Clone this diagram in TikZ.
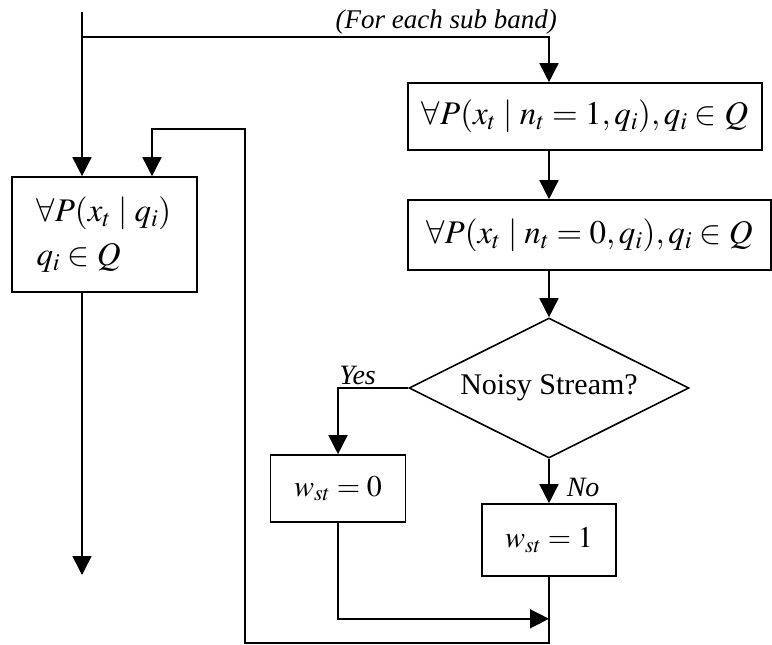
\documentclass[tikz,border=0pt]{standalone}
\usepackage{mathptmx}
\usepackage{fontspec}
\setmainfont{Liberation Serif}
\usetikzlibrary{arrows.meta, positioning, calc, shapes.geometric}

\begin{document}
\begin{tikzpicture}[x=1pt, y=-1pt,
  box/.style={draw, line width=1.6pt, inner sep=0pt, font=\fontsize{33}{38}\selectfont},
  cond/.style={draw, diamond, aspect=2, line width=1.6pt, inner sep=0pt, minimum width=280pt,
               minimum height=140pt, font=\fontsize{30}{36}\selectfont},
  lab/.style={font=\fontsize{28}{32}\selectfont\itshape, inner sep=2pt},
  arr/.style={-{Triangle[width=19pt, length=19pt]}, line width=1.6pt},
  wire/.style={line width=1.6pt}]
  \useasboundingbox (0,0) rectangle (772,645);
  \coordinate (start) at (82,12);
  \coordinate (split) at (82,37);
  \coordinate (stop)  at (82,575);
  \node[box, minimum width=185pt, minimum height=115pt, text width=150pt, inner xsep=17.5pt,
        align=left, font=\fontsize{33}{44}\selectfont] (prior) at (104.5,234.5)
        {\hspace{7pt}$\forall P(x_t\mid q_i)$\\\hspace{7pt}$q_i\in Q$};
  \node[box, minimum width=354pt, minimum height=67pt] (pn) at (585,116.5)
        {$\forall P(x_t\mid n_t=1,q_i),q_i\in Q$};
  \node[box, minimum width=363pt, minimum height=70pt] (pc) at (589.5,235)
        {$\forall P(x_t\mid n_t=0,q_i),q_i\in Q$};
  \node[cond] (test) at (549,388) {Noisy Stream?\hspace{10pt}};
  \node[box, minimum width=135pt, minimum height=67pt, font=\fontsize{30}{36}\selectfont] (w0)
        at (338,488.5) {$w_{st}=0$};
  \node[box, minimum width=134pt, minimum height=72pt, font=\fontsize{30}{36}\selectfont] (w1)
        at (549,540) {$w_{st}=1$};
  \coordinate (merge) at ($(w1.south)+(0,42)$);
  \coordinate (lowL)  at (245,643);
  \coordinate (highL) at (245,129);
  % input and sub band branch
  \draw[wire] (start) -- (split);
  \draw[arr] (split) -- (prior.north -| split);
  \draw[arr] (split) -| node[lab, pos=0.39, above=0pt, font=\fontsize{27}{30}\selectfont\itshape]
        {(For each sub band)} (pn.north -| test.north);
  \draw[arr] (prior.south -| split) -- (stop);
  \draw[arr] (pn.south -| test.north) -- (pc.north -| test.north);
  \draw[arr] (pc.south -| test.north) -- (test.north);
  % decision
  \draw[arr] (test.west) -| node[lab, pos=0.36, above] {Yes} (w0.north);
  \draw[arr] (test.south) -- node[lab, pos=0.64, right=15pt] {No} (w1.north);
  \draw[arr] (w0.south) |- (merge);
  \draw[arr] (w1.south) |- (lowL) -- (highL) -| ($(prior.north)+(47.5,0)$);
\end{tikzpicture}
\end{document}
